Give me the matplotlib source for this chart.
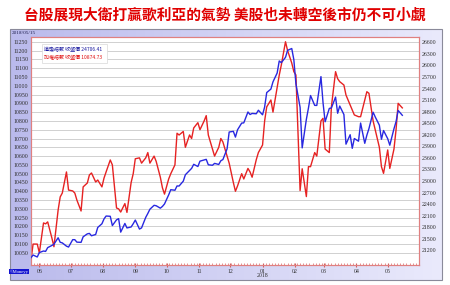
import numpy as np
import pandas as pd
import matplotlib
matplotlib.use("Agg")
import matplotlib.pyplot as plt
import matplotlib.dates as mdates
from matplotlib.patches import Rectangle

# sampled every 2 trading days, 2017/05/24 .. 2018/05/15
dates = pd.bdate_range("2017-05-24", periods=128, freq="2B")

taiex = [10010, 10100, 10100,
         10050, 10220, 10215, 10226, 10135, 10085, 10293, 10368, 10390, 10510, 10407,
         10402, 10390, 10350, 10288, 10425, 10447, 10493, 10504, 10453, 10464, 10425,
         10475, 10510, 10578, 10550, 10305, 10300, 10282, 10330, 10280, 10450, 10500,
         10585, 10590, 10560, 10590, 10620, 10560, 10600, 10570, 10480, 10420, 10384,
         10470, 10500, 10550, 10730, 10720, 10740, 10650, 10720, 10700, 10760, 10790,
         10750, 10800, 10830, 10720, 10640, 10600, 10650, 10700, 10680, 10600, 10560,
         10450, 10400, 10430, 10500, 10470, 10530, 10510, 10480, 10580, 10620,
         10663, 10800, 10880, 10919, 10850, 10990, 11060, 11118, 11250, 11200, 11129, 11080,
         11061, 10404, 10528, 10370, 10540, 10540, 10620, 10600, 10800, 10815,
         10640, 10620, 10880, 11080, 11040, 11023, 11004, 10947, 10890, 10862, 10834,
         10824, 10824, 10919, 10966, 10957, 10800, 10750, 10650, 10540, 10502,
         10635, 10530, 10640, 10750, 10900, 10874]

dow = [21012, 21080, 21029,
       21144, 21184, 21174, 21272, 21328, 21360, 21528, 21410, 21395, 21310, 21287,
       21479, 21478, 21414, 21409, 21553, 21629, 21641, 21580, 21613, 21796, 21891,
       22016, 22092, 22085, 21844, 21993, 22024, 21674, 21899, 21783, 21808, 21892,
       21988, 21753, 21784, 22057, 22158, 22268, 22370, 22359, 22296, 22341, 22405,
       22641, 22775, 22761, 22872, 22871, 22997, 23163, 23274, 23329, 23434, 23377,
       23516, 23548, 23563, 23422, 23409, 23458, 23430, 23526, 23558, 23836, 24272,
       24290, 24140, 24329, 24504, 24509, 24792, 24726, 24754, 24746, 24837,
       24719, 24922, 25296, 25386, 25574, 25803, 26116, 26072, 26210, 26392, 26439, 26149,
       25521, 24912, 23860, 24601, 24893, 25219, 24964, 24962, 25710, 25029,
       24538, 24884, 24896, 25179, 24759, 24946, 24727, 23957, 24202, 23849, 24103,
       24034, 24505, 23979, 24189, 24360, 24786, 24665, 24449, 24084, 24311,
       24099, 23930, 24357, 24542, 24831, 24706]

left_ticks = np.arange(10050, 11251, 50)
right_ticks = np.arange(21200, 26601, 300)

title = "台股展現大衛打贏歌利亞的氣勢 美股也未轉空後市仍不可小覷"
legend_dow = "道瓊指數 收盤價 24706.41"
legend_tw = "加權指數 收盤價 10874.73"
cjk = ["Noto Sans CJK TC", "DejaVu Sans"]
num_font = "Liberation Serif"

W, H = 450, 285
fig = plt.figure(figsize=(4.5, 2.85), dpi=100)

def fx(px):
    return px / W

def fy(py):
    return 1 - py / H

# lavender panel with gradient
bg = fig.add_axes([fx(10), fy(280), fx(432), 251 / H])
c0 = np.array([186, 186, 236]) / 255
c1 = np.array([234, 234, 252]) / 255
t = np.linspace(0, 1, 256)[None, :, None]
bg.imshow(c0 + (c1 - c0) * t, aspect="auto", extent=[0, 1, 0, 1])
bg.set_axis_off()
fig.patches.append(Rectangle((fx(10), fy(280)), fx(432), 251 / H, transform=fig.transFigure,
                             fill=False, edgecolor="#8a8a9a", lw=0.8))

fig.text(0.5, fy(15), title, ha="center", va="center", fontsize=10.6,
         fontweight="bold", color="#e00000", family=cjk)
fig.text(fx(12), fy(32.5), "2018/05/15", fontsize=3.8, color="#202050",
         va="center", family=num_font)
fig.text(fx(9.5), fy(271.5), "©Moneyy", fontsize=3.3, color="white", va="center",
         family=num_font, bbox=dict(facecolor="#1414d0", edgecolor="none", pad=0.5))

ax = fig.add_axes([fx(31), fy(265), fx(388), 228 / H])
ax.set_facecolor("white")
ax2 = ax.twinx()

ax.plot(dates, taiex, color="#e62222", lw=1.0, zorder=3)
ax2.plot(dates, dow, color="#2828e0", lw=1.0, zorder=3)

ax.set_ylim(9981, 11277)
ax2.set_ylim(20821, 26738)
ax.set_xlim(pd.Timestamp("2017-05-24"), pd.Timestamp("2018-05-31"))

ax.set_yticks(left_ticks)
ax2.set_yticks(right_ticks)
ax.grid(axis="y", color="#d0d0d0", lw=0.7)
ax.set_axisbelow(True)

ax.xaxis.set_major_locator(mdates.MonthLocator())
ax.xaxis.set_major_formatter(mdates.DateFormatter("%m"))
ax.xaxis.set_minor_locator(mdates.DayLocator(interval=3))

for a in (ax, ax2):
    for s in a.spines.values():
        s.set_color("#e08080")
        s.set_linewidth(0.8)
    a.tick_params(axis="y", length=0, pad=2, labelsize=4.2, labelcolor="#303030")
    for lab in a.get_yticklabels():
        lab.set_family(num_font)

ax.tick_params(axis="x", which="major", length=3, direction="inout", color="#d06060",
               labelsize=4.2, labelcolor="#303030", pad=1.5)
ax.tick_params(axis="x", which="minor", length=1.2, direction="in", color="#e08080")
for lab in ax.get_xticklabels():
    lab.set_family(num_font)

ax.text(pd.Timestamp("2018-01-01"), -0.048, "2018", transform=ax.get_xaxis_transform(),
        ha="center", va="center", fontsize=4.2, color="#303030", family=num_font)

# legend box
ax.add_patch(Rectangle((0.028, 0.886), 0.168, 0.083, transform=ax.transAxes,
                       facecolor="white", edgecolor="#d8d8d8", lw=0.5, zorder=5))
ax.text(0.034, 0.946, legend_dow, transform=ax.transAxes, fontsize=3.6,
        color="#1a1aa0", va="center", family=cjk, zorder=6)
ax.text(0.034, 0.915, legend_tw, transform=ax.transAxes, fontsize=3.6,
        color="#e01010", va="center", family=cjk, zorder=6)

fig.savefig("out.png", dpi=100)
